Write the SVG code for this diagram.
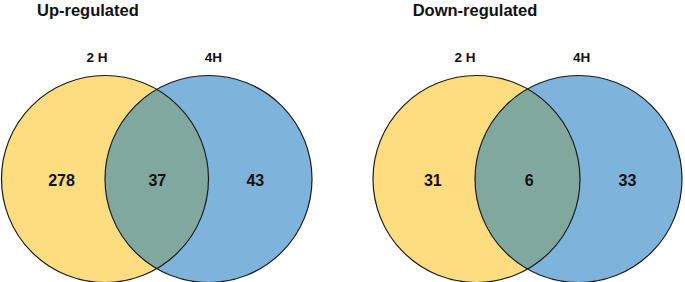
<svg xmlns="http://www.w3.org/2000/svg" width="685" height="282" viewBox="0 0 685 282">
<style>
.t{font-family:"Liberation Sans",Arial,sans-serif;font-weight:bold;fill:#111}
.title{font-size:16.5px}
.lab{font-size:13.5px;text-anchor:middle}
.num{font-size:16px;text-anchor:middle}
.y{fill:#FEDC80}
.b{fill:#7EB4DC}
.o{fill:#80A89E}
.edge{fill:none;stroke:#1a1a1a;stroke-width:1.2}
</style>
<defs>
<clipPath id="cl1"><circle cx="105" cy="179" r="103.5"/></clipPath>
<clipPath id="cl2"><circle cx="476.5" cy="179" r="103.5"/></clipPath>
</defs>
<rect width="685" height="282" fill="#fff"/>
<g id="up">
<text class="t title" x="37" y="15.5">Up-regulated</text>
<g id="up-2h">
<circle class="y" cx="105" cy="179" r="103.5"/>
<text class="t lab" x="97" y="62">2 H</text>
</g>
<g id="up-4h">
<circle class="b" cx="208.5" cy="179" r="103.5"/>
<text class="t lab" x="213.5" y="62">4H</text>
</g>
<g id="up-both">
<circle class="o" cx="208.5" cy="179" r="103.5" clip-path="url(#cl1)"/>
</g>
<circle class="edge" cx="105" cy="179" r="103.5"/>
<circle class="edge" cx="208.5" cy="179" r="103.5"/>
<text class="t num" x="61.5" y="186">278</text>
<text class="t num" x="157.3" y="186">37</text>
<text class="t num" x="255.3" y="186">43</text>
</g>
<g id="down">
<text class="t title" x="412.7" y="15.5">Down-regulated</text>
<g id="down-2h">
<circle class="y" cx="476.5" cy="179" r="103.5"/>
<text class="t lab" x="465" y="62">2 H</text>
</g>
<g id="down-4h">
<circle class="b" cx="578.5" cy="179" r="103.5"/>
<text class="t lab" x="581.7" y="62">4H</text>
</g>
<g id="down-both">
<circle class="o" cx="578.5" cy="179" r="103.5" clip-path="url(#cl2)"/>
</g>
<circle class="edge" cx="476.5" cy="179" r="103.5"/>
<circle class="edge" cx="578.5" cy="179" r="103.5"/>
<text class="t num" x="432.8" y="186">31</text>
<text class="t num" x="529.3" y="186">6</text>
<text class="t num" x="627.5" y="186">33</text>
</g>
<g id="connectors"></g>
</svg>
